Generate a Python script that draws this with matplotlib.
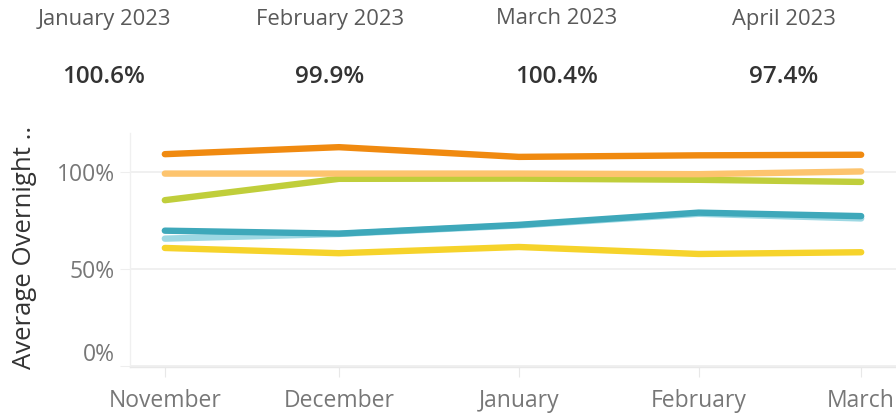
import matplotlib
matplotlib.use("Agg")
import matplotlib.pyplot as plt
import matplotlib.transforms as mtrans
import datetime as dt

# KPI header
kpi_months = ["January 2023", "February 2023", "March 2023", "April 2023"]
kpi_values = ["100.6%", "99.9%", "100.4%", "97.4%"]

# Line chart data
months = [dt.date(2022, 11, 1), dt.date(2022, 12, 1), dt.date(2023, 1, 1),
          dt.date(2023, 2, 1), dt.date(2023, 3, 1)]
month_labels = ["November", "December", "January", "February", "March"]

series_light_teal = [65.6, 68.0, 72.4, 78.4, 76.0]
series_teal = [69.7, 68.2, 72.7, 79.0, 77.2]
series_yellow = [60.8, 58.1, 61.3, 57.7, 58.6]
series_green = [85.4, 96.4, 96.5, 95.9, 94.8]
series_light_orange = [99.1, 99.1, 99.1, 98.8, 100.2]
series_orange = [109.1, 112.7, 107.7, 108.5, 108.8]

series = [
    (series_light_teal, "#9dd8e3"),
    (series_teal, "#3ea8ba"),
    (series_yellow, "#f6d32b"),
    (series_green, "#c0ce3b"),
    (series_light_orange, "#fdc46e"),
    (series_orange, "#f08a10"),
]

yticks = [0, 50, 100]
ytick_labels = ["0%", "50%", "100%"]

W, H = 896, 415
fig = plt.figure(figsize=(W / 100, H / 100), dpi=100)
font = "Open Sans"

# KPI texts
kpi_x = [104, 330, 557, 784]
for x, m, v in zip(kpi_x, kpi_months, kpi_values):
    fig.text(x / W, 1 - 19 / H, m, ha="center", va="center", fontsize=15.8,
             color="#595959", family=font)
    fig.text(x / W, 1 - 77 / H, v, ha="center", va="center", fontsize=17.5,
             color="#333333", family=font, fontweight="semibold")

ax = fig.add_axes([130 / W, (H - 367) / H, (W - 130) / W, (367 - 133) / H])
for vals, c in series:
    ax.plot(months, vals, color=c, lw=4.6, solid_capstyle="round",
            solid_joinstyle="round")

ax.set_ylim(-0.5, 120)
ax.set_xlim(dt.date(2022, 11, 1) - dt.timedelta(days=6.2),
            dt.date(2023, 3, 1) + dt.timedelta(days=6.2))
ax.set_yticks(yticks)
ax.set_yticklabels(ytick_labels)
ax.set_xticks(months)
ax.set_xticklabels(month_labels)

for s in ["top", "right"]:
    ax.spines[s].set_visible(False)
ax.spines["left"].set_color("#f0f0f0")
ax.spines["bottom"].set_color("#e8e8e8")
ax.spines["left"].set_linewidth(1)
ax.spines["bottom"].set_linewidth(1)

ax.grid(axis="y", color="#eeeeee", lw=1.2)
ax.set_axisbelow(True)
ax.tick_params(axis="y", length=7, color="#eeeeee", pad=4, labelsize=16.5,
               labelcolor="#777777")
ax.tick_params(axis="x", length=7, color="#e8e8e8", pad=8.5, labelsize=16.5,
               labelcolor="#777777")
for lab in ax.get_xticklabels() + ax.get_yticklabels():
    lab.set_family(font)

# shift the 0% label up as in the reference
zero_lab = ax.get_yticklabels()[0]
zero_lab.set_transform(zero_lab.get_transform() +
                       mtrans.ScaledTranslation(0, 14 / 100, fig.dpi_scale_trans))

ax.set_ylabel("Average Overnight ..", fontsize=18.5, color="#333333",
              family=font)
ax.yaxis.set_label_coords(-0.122, 0.51)

fig.savefig("out.png", dpi=100)
